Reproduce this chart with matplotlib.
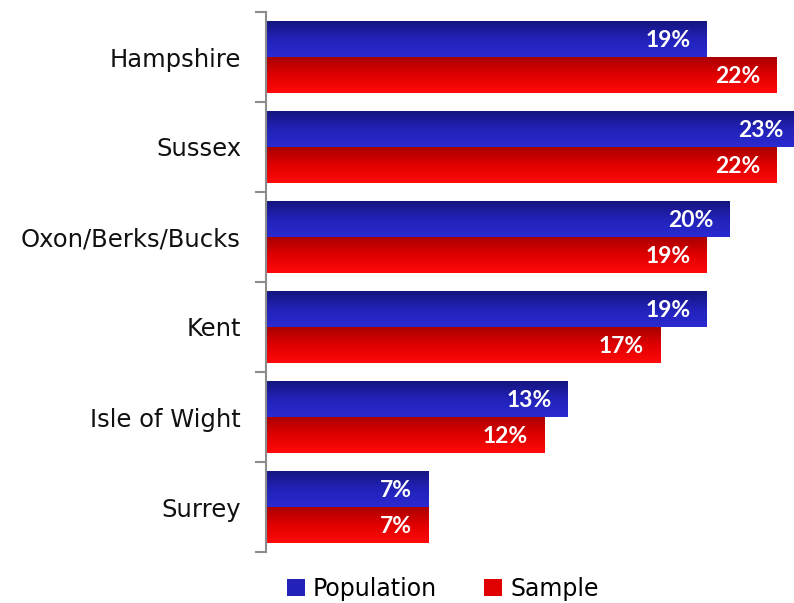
import numpy as np
import matplotlib.pyplot as plt
from matplotlib.colors import LinearSegmentedColormap
from matplotlib.patches import Patch

# Regional share: population vs survey sample
regions = ["Hampshire", "Sussex", "Oxon/Berks/Bucks", "Kent", "Isle of Wight", "Surrey"]
population = [19, 23, 20, 19, 13, 7]
sample = [22, 22, 19, 17, 12, 7]

blue_grad = LinearSegmentedColormap.from_list("blue_grad", ["#15157f", "#2222b8", "#2a2ad2"])
red_grad = LinearSegmentedColormap.from_list("red_grad", ["#a80000", "#e00000", "#ff0a0a"])

fig = plt.figure(figsize=(7.94, 6.03), dpi=100)
ax = fig.add_axes([266 / 794, 1 - 552 / 603, 1 - 266 / 794, 540 / 603])

y = np.arange(len(regions))
h = 0.4
bars_pop = ax.barh(y - h / 2, population, height=h, color="#2222b8", edgecolor="none")
bars_smp = ax.barh(y + h / 2, sample, height=h, color="#e00000", edgecolor="none")

# vertical gradient fill, dark at the top of each bar
grad = np.linspace(0, 1, 256).reshape(-1, 1)
for bars, cmap in [(bars_pop, blue_grad), (bars_smp, red_grad)]:
    for b in bars:
        x0, y0 = b.get_x(), b.get_y()
        w, hh = b.get_width(), b.get_height()
        im = ax.imshow(grad, cmap=cmap, aspect="auto", origin="upper",
                       extent=(x0, x0 + w, y0 + hh, y0), zorder=2)
        im.set_clip_path(b)

for bars, vals in [(bars_pop, population), (bars_smp, sample)]:
    for b, v in zip(bars, vals):
        ax.text(v - 0.7, b.get_y() + b.get_height() / 2 + 0.02, f"{v}%",
                ha="right", va="center", color="white", fontsize=16.5,
                fontweight="bold", family="Lato", zorder=3)

ax.set_xlim(0, 22.76)
ax.set_ylim(len(regions) - 0.5, -0.5)

ax.set_yticks(y)
ax.set_yticklabels(regions, fontsize=17.5, color="#111111")
ax.tick_params(axis="y", which="major", length=0, pad=18)
ax.set_yticks(np.arange(len(regions) + 1) - 0.5, minor=True)
ax.tick_params(axis="y", which="minor", length=8, width=1.5, color="#8c8c8c", direction="out")
ax.set_xticks([])

for s in ["top", "right", "bottom"]:
    ax.spines[s].set_visible(False)
ax.spines["left"].set_color("#8c8c8c")
ax.spines["left"].set_linewidth(1.5)

handles = [Patch(facecolor="#2222b8", label="Population"),
           Patch(facecolor="#e00000", label="Sample")]
fig.legend(handles=handles, loc="center", bbox_to_anchor=(443 / 794, 1 - 589 / 603),
           ncol=2, frameon=False, fontsize=17, handlelength=0.75, handleheight=0.75,
           handletextpad=0.35, columnspacing=2.0)

fig.savefig("out.png", dpi=100)
